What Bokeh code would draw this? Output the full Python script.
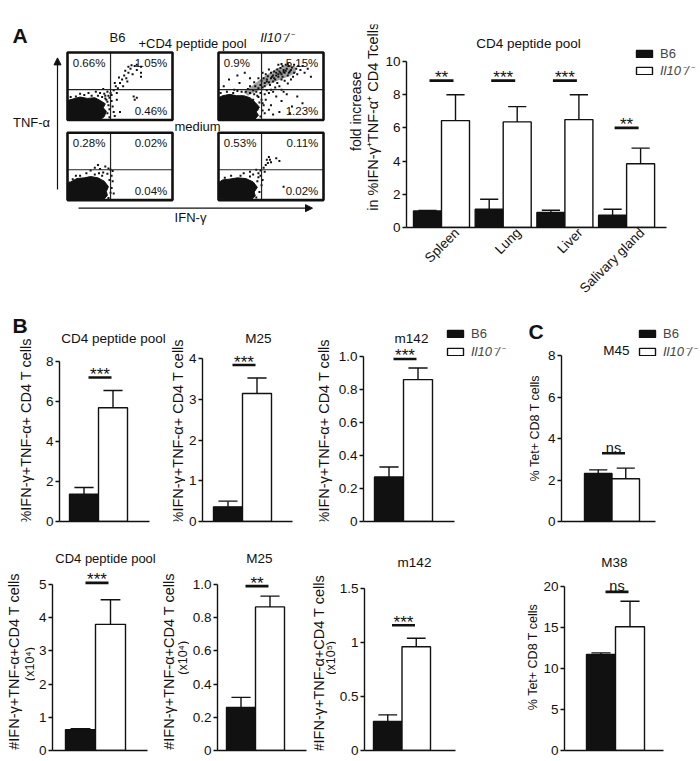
import math
from bokeh.plotting import figure
from bokeh.models import Range1d, FixedTicker, Legend, LegendItem, Arrow, NormalHead
from bokeh.layouts import column, row
from bokeh.embed import file_html
from bokeh.resources import INLINE
from bokeh.core.properties import value

FONT = "Liberation Sans"
INK = "#111111"
IL10 = "Il10\u207b/\u207b"

# ======================= DATA =======================
# ---- Panel A: flow cytometry (quadrant % : upper-left, upper-right, lower-right)
pct_stim_b6 = ["0.66%", "1.05%", "0.46%"]
pct_stim_il10 = ["0.9%", "5.15%", "1.23%"]
pct_med_b6 = ["0.28%", "0.02%", "0.04%"]
pct_med_il10 = ["0.53%", "0.11%", "0.02%"]
gate_x = 0.41
gate_y = 0.45
# dense event clouds (outline, fraction of plot) and sparse events (fraction of plot)
blob_stim_b6 = [(0.0, 0.0), (0.31, 0.0), (0.35, 0.05), (0.37, 0.13), (0.34, 0.18), (0.36, 0.24),
                (0.31, 0.29), (0.26, 0.33), (0.19, 0.32), (0.12, 0.34), (0.05, 0.31), (0.0, 0.29)]
dots_stim_b6 = [(0.36, 0.36), (0.40, 0.33), (0.42, 0.28), (0.43, 0.20), (0.41, 0.40), (0.44, 0.44),
                (0.38, 0.42), (0.46, 0.50), (0.48, 0.47), (0.45, 0.55), (0.50, 0.55), (0.52, 0.60),
                (0.49, 0.63), (0.54, 0.66), (0.56, 0.62), (0.58, 0.70), (0.55, 0.73), (0.60, 0.76),
                (0.62, 0.68), (0.64, 0.80), (0.66, 0.74), (0.61, 0.81), (0.66, 0.82), (0.70, 0.79),
                (0.70, 0.70), (0.57, 0.57), (0.53, 0.50), (0.47, 0.40), (0.31, 0.40), (0.27, 0.42),
                (0.20, 0.40), (0.12, 0.39), (0.34, 0.46), (0.63, 0.35), (0.66, 0.33), (0.64, 0.30),
                (0.47, 0.30), (0.50, 0.12), (0.45, 0.06), (0.44, 0.12), (0.70, 0.64), (0.58, 0.79),
                (0.37, 0.30), (0.39, 0.22), (0.38, 0.10), (0.40, 0.04), (0.33, 0.34), (0.29, 0.36),
                (0.23, 0.36), (0.16, 0.37), (0.08, 0.35), (0.03, 0.34), (0.36, 0.32), (0.39, 0.36),
                (0.35, 0.39), (0.42, 0.37), (0.40, 0.16), (0.38, 0.27)]
blob_stim_il10 = [(0.0, 0.0), (0.34, 0.0), (0.38, 0.07), (0.36, 0.12), (0.39, 0.19), (0.35, 0.26),
                  (0.30, 0.33), (0.24, 0.36), (0.17, 0.36), (0.11, 0.38), (0.04, 0.36), (0.0, 0.33)]
band_stim_il10 = [(0.28, 0.36), (0.38, 0.44), (0.47, 0.52), (0.56, 0.58), (0.66, 0.64), (0.74, 0.70),
                  (0.73, 0.79), (0.64, 0.81), (0.55, 0.76), (0.46, 0.67), (0.38, 0.58), (0.30, 0.48),
                  (0.24, 0.41)]
dots_stim_il10 = [(0.30, 0.40), (0.33, 0.44), (0.36, 0.42), (0.38, 0.47), (0.35, 0.50), (0.40, 0.52),
                  (0.42, 0.48), (0.44, 0.55), (0.41, 0.58), (0.46, 0.60), (0.48, 0.56), (0.50, 0.62),
                  (0.47, 0.65), (0.52, 0.66), (0.54, 0.60), (0.55, 0.70), (0.57, 0.64), (0.58, 0.72),
                  (0.60, 0.68), (0.62, 0.74), (0.59, 0.77), (0.63, 0.70), (0.65, 0.76), (0.66, 0.66),
                  (0.68, 0.72), (0.70, 0.78), (0.56, 0.75), (0.53, 0.72), (0.61, 0.80), (0.64, 0.82),
                  (0.67, 0.80), (0.72, 0.70), (0.74, 0.76), (0.71, 0.64), (0.69, 0.60), (0.75, 0.68),
                  (0.78, 0.74), (0.80, 0.80), (0.50, 0.70), (0.45, 0.68), (0.43, 0.62), (0.49, 0.52),
                  (0.52, 0.57), (0.56, 0.55), (0.60, 0.60), (0.63, 0.58), (0.66, 0.54), (0.58, 0.50),
                  (0.54, 0.48), (0.50, 0.45), (0.46, 0.44), (0.40, 0.40), (0.37, 0.36), (0.44, 0.38),
                  (0.48, 0.40), (0.52, 0.42), (0.60, 0.45), (0.57, 0.82), (0.60, 0.83), (0.72, 0.82),
                  (0.76, 0.80), (0.82, 0.70), (0.85, 0.76), (0.88, 0.64), (0.66, 0.83), (0.48, 0.75),
                  (0.42, 0.70), (0.38, 0.62), (0.34, 0.56), (0.30, 0.50), (0.28, 0.46), (0.45, 0.30),
                  (0.50, 0.22), (0.55, 0.35), (0.48, 0.15), (0.60, 0.28), (0.65, 0.38), (0.70, 0.20),
                  (0.52, 0.08), (0.58, 0.12), (0.42, 0.25), (0.44, 0.10), (0.62, 0.42), (0.75, 0.35),
                  (0.68, 0.10), (0.80, 0.25), (0.10, 0.60), (0.20, 0.55), (0.25, 0.70), (0.15, 0.45),
                  (0.22, 0.42), (0.30, 0.62), (0.05, 0.50), (0.18, 0.66), (0.41, 0.30), (0.43, 0.22),
                  (0.42, 0.14), (0.38, 0.34), (0.34, 0.38), (0.26, 0.42), (0.18, 0.43), (0.08, 0.42),
                  (0.02, 0.40), (0.40, 0.05), (0.39, 0.26), (0.33, 0.30), (0.14, 0.40), (0.37, 0.16),
                  (0.51, 0.64), (0.55, 0.66), (0.59, 0.70), (0.62, 0.71), (0.64, 0.73), (0.57, 0.68),
                  (0.53, 0.62), (0.61, 0.64), (0.67, 0.70), (0.69, 0.74), (0.46, 0.57), (0.44, 0.50)]
blob_med_b6 = [(0.0, 0.0), (0.34, 0.0), (0.38, 0.07), (0.37, 0.13), (0.39, 0.20), (0.35, 0.28),
               (0.29, 0.33), (0.22, 0.35), (0.16, 0.33), (0.09, 0.32), (0.03, 0.27), (0.0, 0.21)]
dots_med_b6 = [(0.26, 0.48), (0.29, 0.52), (0.31, 0.46), (0.36, 0.50), (0.39, 0.47), (0.41, 0.45),
               (0.43, 0.43), (0.34, 0.41), (0.22, 0.44), (0.38, 0.39), (0.42, 0.36), (0.30, 0.40),
               (0.18, 0.40), (0.43, 0.28), (0.42, 0.18), (0.08, 0.36), (0.02, 0.26), (0.44, 0.10),
               (0.40, 0.30), (0.41, 0.11), (0.39, 0.03), (0.33, 0.36), (0.26, 0.38), (0.12, 0.36),
               (0.05, 0.31), (0.01, 0.24)]
blob_med_il10 = [(0.0, 0.02), (0.31, 0.0), (0.35, 0.06), (0.34, 0.12), (0.37, 0.19), (0.33, 0.27),
                 (0.26, 0.32), (0.18, 0.33), (0.10, 0.31), (0.04, 0.30), (0.0, 0.26)]
dots_med_il10 = [(0.38, 0.40), (0.40, 0.44), (0.43, 0.48), (0.45, 0.52), (0.47, 0.55), (0.49, 0.60),
                 (0.46, 0.60), (0.50, 0.56), (0.44, 0.42), (0.36, 0.45), (0.33, 0.38), (0.30, 0.42),
                 (0.40, 0.36), (0.42, 0.30), (0.55, 0.62), (0.58, 0.58), (0.62, 0.20), (0.24, 0.40),
                 (0.48, 0.64), (0.41, 0.22), (0.39, 0.12), (0.12, 0.36), (0.37, 0.28), (0.36, 0.04),
                 (0.30, 0.35), (0.21, 0.36), (0.06, 0.33), (0.38, 0.34)]

# ---- Panel A: fold increase bar chart
organs = ["Spleen", "Lung", "Liver", "Salivary gland"]
a_b6 = [1.0, 1.1, 0.9, 0.74]
a_b6_err = [0.03, 0.6, 0.14, 0.36]
a_il10 = [6.44, 6.36, 6.5, 3.84]
a_il10_err = [1.56, 0.92, 1.5, 0.94]
a_sig_y = [8.85, 8.85, 8.85, 6.0]
a_sig = ["**", "***", "***", "**"]
a_ticks = [0, 2, 4, 6, 8, 10]
a_tick_labels = ["0", "2", "4", "6", "8", "10"]

# ---- Panels B and C: [B6, Il10-/-]
b1_vals, b1_errs, b1_sig = [1.37, 5.69], [0.33, 0.86], (7.2, "***")
b1_ticks, b1_labels = [0, 2, 4, 6, 8], ["0", "2", "4", "6", "8"]
b2_vals, b2_errs, b2_sig = [0.36, 3.14], [0.14, 0.38], (3.84, "***")
b2_ticks, b2_labels = [0, 1, 2, 3, 4], ["0", "1", "2", "3", "4"]
b3_vals, b3_errs, b3_sig = [0.27, 0.86], [0.06, 0.07], (0.985, "***")
b3_ticks, b3_labels = [0, 0.2, 0.4, 0.6, 0.8, 1.0], ["0", "0.2", "0.4", "0.6", "0.8", "1.0"]
c1_vals, c1_errs, c1_sig = [2.31, 2.06], [0.18, 0.51], (3.29, "ns")
c1_ticks, c1_labels = [0, 2, 4, 6, 8], ["0", "2", "4", "6", "8"]
b4_vals, b4_errs, b4_sig = [0.63, 3.8], [0.03, 0.74], (5.05, "***")
b4_ticks, b4_labels = [0, 1, 2, 3, 4, 5], ["0", "1", "2", "3", "4", "5"]
b5_vals, b5_errs, b5_sig = [0.26, 0.865], [0.06, 0.065], (0.99, "**")
b5_ticks, b5_labels = [0, 0.2, 0.4, 0.6, 0.8, 1.0], ["0", "0.2", "0.4", "0.6", "0.8", "1.0"]
b6_vals, b6_errs, b6_sig = [0.27, 0.96], [0.06, 0.08], (1.16, "***")
b6_ticks, b6_labels = [0, 0.5, 1, 1.5], ["0", "0.5", "1", "1.5"]
c2_vals, c2_errs, c2_sig = [11.7, 15.1], [0.2, 3.1], (19.35, "ns")
c2_ticks, c2_labels = [0, 5, 10, 15, 20], ["0", "5", "10", "15", "20"]

lab_pct = "%IFN-\u03b3+TNF-\u03b1+ CD4 T cells"
lab_num = "#IFN-\u03b3+TNF-\u03b1+CD4 T cells"
lab_x4 = "(x10\u2074)"
lab_x5 = "(x10\u2075)"
lab_tet = "% Tet+ CD8 T cells"
lab_fold1 = "fold increase"
lab_fold2 = "in %IFN-\u03b3\u207aTNF-\u03b1\u207a CD4 Tcells"


# ======================= HELPERS =======================
def clean(p):
    p.xgrid.visible = False
    p.ygrid.visible = False
    p.outline_line_color = None
    p.background_fill_color = "white"
    p.border_fill_color = "white"


def blank_fig(w, h):
    p = figure(width=w, height=h, x_range=Range1d(0, w), y_range=Range1d(0, h), min_border=0,
               toolbar_location=None, output_backend="svg", x_axis_location=None, y_axis_location=None)
    clean(p)
    return p


def label_fig(g):
    """Strip left of a chart holding the rotated y-axis title and panel letter."""
    x0 = g["left"]
    w = g["axis"] - g["tickw"] - x0
    h = g["rbot"] - g["rtop"]
    p = blank_fig(w, h)
    for txt, rx, ry, fs in g["ylab"]:
        p.text(x=[rx - x0], y=[g["rbot"] - ry], text=[txt], angle=math.pi / 2,
               text_font=value(FONT), text_font_size=fs, text_align="center",
               text_baseline="middle", text_color=INK)
    if "letter" in g:
        t, lx, ly = g["letter"]
        p.text(x=[lx - x0], y=[g["rbot"] - ly], text=[t], text_font=value(FONT),
               text_font_size="21px", text_font_style="bold", text_align="left",
               text_baseline="middle", text_color=INK)
    return p


def style_yaxis(p, ticks, labels):
    ax = p.yaxis[0]
    ax.ticker = FixedTicker(ticks=ticks)
    ax.major_label_overrides = {t: l for t, l in zip(ticks, labels)}
    ax.bounds = (0, ticks[-1])
    ax.axis_line_color = INK
    ax.axis_line_width = 1.4
    ax.major_tick_line_color = INK
    ax.major_tick_line_width = 1.4
    ax.major_tick_in = 0
    ax.major_tick_out = 4
    ax.minor_tick_line_color = None
    ax.major_label_text_font = FONT
    ax.major_label_text_font_size = "13.5px"
    ax.major_label_text_color = INK
    ax.major_label_standoff = 2
    ax.axis_label = None


def style_xaxis_plain(p, start, end):
    xa = p.xaxis[0]
    xa.bounds = (start, end)
    xa.ticker = FixedTicker(ticks=[])
    xa.major_label_text_font_size = "0px"
    xa.major_tick_out = 0
    xa.major_tick_in = 0
    xa.major_label_standoff = 0
    xa.minor_tick_line_color = None
    xa.axis_line_color = INK
    xa.axis_line_width = 1.4


def add_legend(p, r1, r2, x_px, y1_px, y2_px):
    for r, lab, st, y in [(r1, "B6", "normal", y1_px), (r2, IL10, "italic", y2_px)]:
        lg = Legend(items=[LegendItem(label=lab, renderers=[r])], location=(x_px, y - 8))
        lg.glyph_width = 20
        lg.glyph_height = 9
        lg.label_height = 16
        lg.padding = 0
        lg.margin = 0
        lg.border_line_color = None
        lg.background_fill_alpha = 0
        lg.label_text_font = FONT
        lg.label_text_font_size = "13px"
        lg.label_text_font_style = st
        lg.label_standoff = 6
        p.add_layout(lg)


def sig_mark(p, xs, ys, txts, ppu):
    for x, y, t in zip(xs, ys, txts):
        if t == "ns":
            p.text(x=[x], y=[y + 5.5 / ppu], text=[t], text_font=value(FONT), text_font_size="14.5px",
                   text_align="center", text_baseline="alphabetic", text_color=INK)
        else:
            p.text(x=[x], y=[y + 3.0 / ppu], text=[t], text_font=value(FONT), text_font_size="17px",
                   text_align="center", text_baseline="alphabetic", text_color=INK)


def two_bar_panel(g, vals, errs, sig, ticks, labels, title):
    unit = g["bw"]
    c0 = g["bar0"] + unit / 2.0
    ppu = (g["ybot"] - g["ytick"]) / ticks[-1]

    def xd(px):
        return (px - c0) / unit

    def yd(py):
        return (g["ybot"] - py) / ppu

    fr = g["right"] - 2
    p = figure(frame_width=fr - g["axis"], frame_height=g["ybot"] - g["ftop"],
               x_range=Range1d(xd(g["axis"]), xd(fr)), y_range=Range1d(0, yd(g["ftop"])),
               min_border_left=g["tickw"], min_border_right=2,
               min_border_top=g["ftop"] - g["rtop"], min_border_bottom=g["rbot"] - g["ybot"],
               toolbar_location=None, output_backend="svg")
    clean(p)
    style_yaxis(p, ticks, labels)
    style_xaxis_plain(p, xd(g["axis"]), xd(g["xend"]))

    xs = [0, 1]
    r1 = p.vbar(x=[xs[0]], top=[vals[0]], width=1.0, fill_color=INK, line_color=INK, line_width=1.4)
    r2 = p.vbar(x=[xs[1]], top=[vals[1]], width=1.0, fill_color="white", line_color=INK, line_width=1.4)
    tops = [v + e for v, e in zip(vals, errs)]
    p.segment(x0=xs, y0=vals, x1=xs, y1=tops, line_color=INK, line_width=1.4)
    p.segment(x0=[x - 0.33 for x in xs], y0=tops, x1=[x + 0.33 for x in xs], y1=tops,
              line_color=INK, line_width=1.4)
    mid = 0.5
    p.segment(x0=[mid - 10 / unit], y0=[sig[0]], x1=[mid + 13 / unit], y1=[sig[0]],
              line_color=INK, line_width=2.6)
    sig_mark(p, [mid + 1.5 / unit], [sig[0]], [sig[1]], ppu)
    p.text(x=[xd(g["tcx"])], y=[yd(g["tcy"])], text=[title], text_font=value(FONT),
           text_font_size=g.get("tfs", "13.5px"), text_align="center", text_baseline="middle",
           text_color=INK)
    if "leg" in g:
        lx, ly1, ly2 = g["leg"]
        add_legend(p, r1, r2, lx - g["axis"], g["ybot"] - ly1, g["ybot"] - ly2)
    return p


# ======================= PANEL A : FLOW =======================
FW, FH = 345, 304
flow = blank_fig(FW, FH)


def cx(refx):
    return refx


def cy(refy):
    return FH - refy


BOX_W, BOX_H = 105, 101
flow_panels = [
    ((67, 42), blob_stim_b6, None, dots_stim_b6, pct_stim_b6),
    ((218, 42), blob_stim_il10, band_stim_il10, dots_stim_il10, pct_stim_il10),
    ((67, 162), blob_med_b6, None, dots_med_b6, pct_med_b6),
    ((218, 162), blob_med_il10, None, dots_med_il10, pct_med_il10),
]
for (rx, ry), blob, band, dots, pct in flow_panels:
    x0, y0 = cx(rx), cy(ry) - BOX_H
    if band is not None:
        flow.patch(x=[x0 + fx * BOX_W for fx, fy in band], y=[y0 + fy * BOX_H for fx, fy in band],
                   fill_color=INK, fill_alpha=0.4, line_color=None)
    flow.patch(x=[x0 + fx * BOX_W for fx, fy in blob], y=[y0 + fy * BOX_H for fx, fy in blob],
               fill_color=INK, line_color=INK, line_width=1.0)
    flow.scatter(x=[x0 + fx * BOX_W for fx, fy in dots], y=[y0 + fy * BOX_H for fx, fy in dots],
                 marker="square", size=2, fill_color=INK, line_color=None)
    flow.segment(x0=[x0 + gate_x * BOX_W, x0], y0=[y0, y0 + gate_y * BOX_H],
                 x1=[x0 + gate_x * BOX_W, x0 + BOX_W], y1=[y0 + BOX_H, y0 + gate_y * BOX_H],
                 line_color="#222222", line_width=1.2)
    flow.quad(left=[x0], right=[x0 + BOX_W], bottom=[y0], top=[y0 + BOX_H],
              fill_color=None, line_color=INK, line_width=2.6)
    flow.text(x=[x0 + 0.05 * BOX_W], y=[y0 + 0.935 * BOX_H], text=[pct[0]], text_font=value(FONT),
              text_font_size="11.5px", text_align="left", text_baseline="top", text_color=INK)
    flow.text(x=[x0 + 0.95 * BOX_W], y=[y0 + 0.935 * BOX_H], text=[pct[1]], text_font=value(FONT),
              text_font_size="11.5px", text_align="right", text_baseline="top", text_color=INK)
    flow.text(x=[x0 + 0.95 * BOX_W], y=[y0 + 0.05 * BOX_H], text=[pct[2]], text_font=value(FONT),
              text_font_size="11.5px", text_align="right", text_baseline="bottom", text_color=INK)

flow_texts = [("B6", 117, 20, "normal"), ("+CD4 peptide pool", 192, 29, "normal"),
              (IL10, 276, 19, "italic"), ("medium", 197, 153, "normal"),
              ("TNF-\u03b1", 31, 147, "normal"), ("IFN-\u03b3", 190, 289, "normal")]
for t, rx, ry, st in flow_texts:
    flow.text(x=[cx(rx)], y=[cy(ry)], text=[t], text_font=value(FONT), text_font_size="13px",
              text_font_style=st, text_align="center", text_baseline="middle", text_color=INK)
flow.text(x=[cx(12)], y=[cy(16)], text=["A"], text_font=value(FONT), text_font_size="21px",
          text_font_style="bold", text_align="left", text_baseline="middle", text_color=INK)
flow.add_layout(Arrow(end=NormalHead(size=7, fill_color=INK, line_color=INK),
                      x_start=cx(57), y_start=cy(247), x_end=cx(57), y_end=cy(50),
                      line_color=INK, line_width=1.2))
flow.add_layout(Arrow(end=NormalHead(size=7, fill_color=INK, line_color=INK),
                      x_start=cx(78), y_start=cy(275), x_end=cx(312), y_end=cy(275),
                      line_color=INK, line_width=1.2))

# ======================= PANEL A : BARS =======================
GA = dict(left=345, right=699, axis=405, tickw=23, xend=665, c0=440.0, unit=61.7, bw=28.0,
          rtop=0, rbot=304, ftop=24, ybot=227, ytick=61,
          ylab=[(lab_fold1, 355, 130, "14px"), (lab_fold2, 372, 138, "14.5px")])
ua = GA["unit"]
ppa = (GA["ybot"] - GA["ytick"]) / a_ticks[-1]


def axd(px):
    return (px - GA["c0"]) / ua


def ayd(py):
    return (GA["ybot"] - py) / ppa


fra = GA["right"] - 2
pa = figure(frame_width=fra - GA["axis"], frame_height=GA["ybot"] - GA["ftop"],
            x_range=Range1d(axd(GA["axis"]), axd(fra)), y_range=Range1d(0, ayd(GA["ftop"])),
            min_border_left=GA["tickw"], min_border_right=2,
            min_border_top=GA["ftop"] - GA["rtop"], min_border_bottom=GA["rbot"] - GA["ybot"],
            toolbar_location=None, output_backend="svg")
clean(pa)
style_yaxis(pa, a_ticks, a_tick_labels)
xa = pa.xaxis[0]
xa.bounds = (axd(GA["axis"]), axd(GA["xend"]))
lab_ticks = [i + 0.25 for i in range(len(organs))]
xa.ticker = FixedTicker(ticks=lab_ticks)
xa.major_label_overrides = {t: o for t, o in zip(lab_ticks, organs)}
xa.major_label_orientation = math.pi / 4
xa.major_label_text_font = FONT
xa.major_label_text_font_size = "13.5px"
xa.major_label_text_color = INK
xa.major_tick_out = 0
xa.major_tick_in = 0
xa.major_label_standoff = 3
xa.minor_tick_line_color = None
xa.axis_line_color = INK
xa.axis_line_width = 1.4

hb = GA["bw"] / ua
xi = list(range(len(organs)))
x_b6 = [i - hb / 2 for i in xi]
x_il = [i + hb / 2 for i in xi]
ra1 = pa.vbar(x=x_b6, top=a_b6, width=hb, fill_color=INK, line_color=INK, line_width=1.4)
ra2 = pa.vbar(x=x_il, top=a_il10, width=hb, fill_color="white", line_color=INK, line_width=1.4)
cap = 0.65 * hb / 2
for xsx, v, e in [(x_b6, a_b6, a_b6_err), (x_il, a_il10, a_il10_err)]:
    tops = [a + b for a, b in zip(v, e)]
    pa.segment(x0=xsx, y0=v, x1=xsx, y1=tops, line_color=INK, line_width=1.4)
    pa.segment(x0=[x - cap for x in xsx], y0=tops, x1=[x + cap for x in xsx], y1=tops,
               line_color=INK, line_width=1.4)
pa.segment(x0=[i - 12 / ua for i in xi], y0=a_sig_y, x1=[i + 12 / ua for i in xi], y1=a_sig_y,
           line_color=INK, line_width=2.6)
sig_mark(pa, xi, a_sig_y, a_sig, ppa)
pa.text(x=[axd(527)], y=[ayd(43)], text=["CD4 peptide pool"], text_font=value(FONT),
        text_font_size="13.5px", text_align="center", text_baseline="middle", text_color=INK)
add_legend(pa, ra1, ra2, 633 - GA["axis"], GA["ybot"] - 53, GA["ybot"] - 71)
la = label_fig(GA)

# ======================= PANELS B / C =======================
R2 = dict(rtop=304, rbot=530, ftop=316)
R3 = dict(rtop=530, rbot=760, ftop=545)
g_b1 = dict(R2, left=0, right=165, axis=57, tickw=15, xend=147, bar0=67, bw=29.0, ybot=521,
            ytick=361, tcx=111, tcy=338, letter=("B", 12, 314),
            ylab=[(lab_pct, 25, 430, "14.5px")])
g_b2 = dict(R2, left=165, right=305, axis=198, tickw=15, xend=288, bar0=209, bw=29.0, ybot=521,
            ytick=358, tcx=254, tcy=338, ylab=[(lab_pct, 175, 431, "14.5px")])
g_b3 = dict(R2, left=305, right=518, axis=357, tickw=26, xend=448, bar0=368, bw=29.0, ybot=521,
            ytick=356, tcx=405, tcy=338, leg=(439, 333, 352), ylab=[(lab_pct, 319, 431, "14.5px")])
g_c1 = dict(R2, left=518, right=699, axis=553, tickw=15, xend=647, bar0=576, bw=27.5, ybot=521,
            ytick=355, tcx=608, tcy=350, leg=(629, 333, 352), letter=("C", 522, 320),
            ylab=[(lab_tet, 528, 427, "12.5px")])
g_b4 = dict(R3, left=0, right=158, axis=50, tickw=15, xend=145, bar0=63, bw=30.0, ybot=750,
            ytick=584, tcx=103, tcy=558, tfs="13px",
            ylab=[(lab_num, 13, 660, "14.5px"), (lab_x4, 29, 663, "12.5px")])
g_b5 = dict(R3, left=158, right=305, axis=213, tickw=26, xend=302, bar0=222, bw=29.0, ybot=750,
            ytick=584, tcx=255, tcy=558,
            ylab=[(lab_num, 166, 660, "14.5px"), (lab_x4, 180, 656, "12.5px")])
g_b6 = dict(R3, left=305, right=518, axis=358, tickw=26, xend=449, bar0=367, bw=28.5, ybot=750,
            ytick=588, tcx=408, tcy=562,
            ylab=[(lab_num, 314, 662, "14.5px"), (lab_x5, 326, 656, "12.5px")])
g_c2 = dict(R3, left=518, right=699, axis=557, tickw=23, xend=656, bar0=579, bw=29.0, ybot=750,
            ytick=586, tcx=607, tcy=562, ylab=[(lab_tet, 526, 655, "12.5px")])

pb1 = two_bar_panel(g_b1, b1_vals, b1_errs, b1_sig, b1_ticks, b1_labels, "CD4 peptide pool")
pb2 = two_bar_panel(g_b2, b2_vals, b2_errs, b2_sig, b2_ticks, b2_labels, "M25")
pb3 = two_bar_panel(g_b3, b3_vals, b3_errs, b3_sig, b3_ticks, b3_labels, "m142")
pc1 = two_bar_panel(g_c1, c1_vals, c1_errs, c1_sig, c1_ticks, c1_labels, "M45")
pb4 = two_bar_panel(g_b4, b4_vals, b4_errs, b4_sig, b4_ticks, b4_labels, "CD4 peptide pool")
pb5 = two_bar_panel(g_b5, b5_vals, b5_errs, b5_sig, b5_ticks, b5_labels, "M25")
pb6 = two_bar_panel(g_b6, b6_vals, b6_errs, b6_sig, b6_ticks, b6_labels, "m142")
pc2 = two_bar_panel(g_c2, c2_vals, c2_errs, c2_sig, c2_ticks, c2_labels, "M38")

row2 = row(label_fig(g_b1), pb1, label_fig(g_b2), pb2, label_fig(g_b3), pb3, label_fig(g_c1), pc1)
row3 = row(label_fig(g_b4), pb4, label_fig(g_b5), pb5, label_fig(g_b6), pb6, label_fig(g_c2), pc2)
layout = column(row(flow, la, pa), row2, row3)
open("out.html", "w").write(file_html(layout, INLINE))
